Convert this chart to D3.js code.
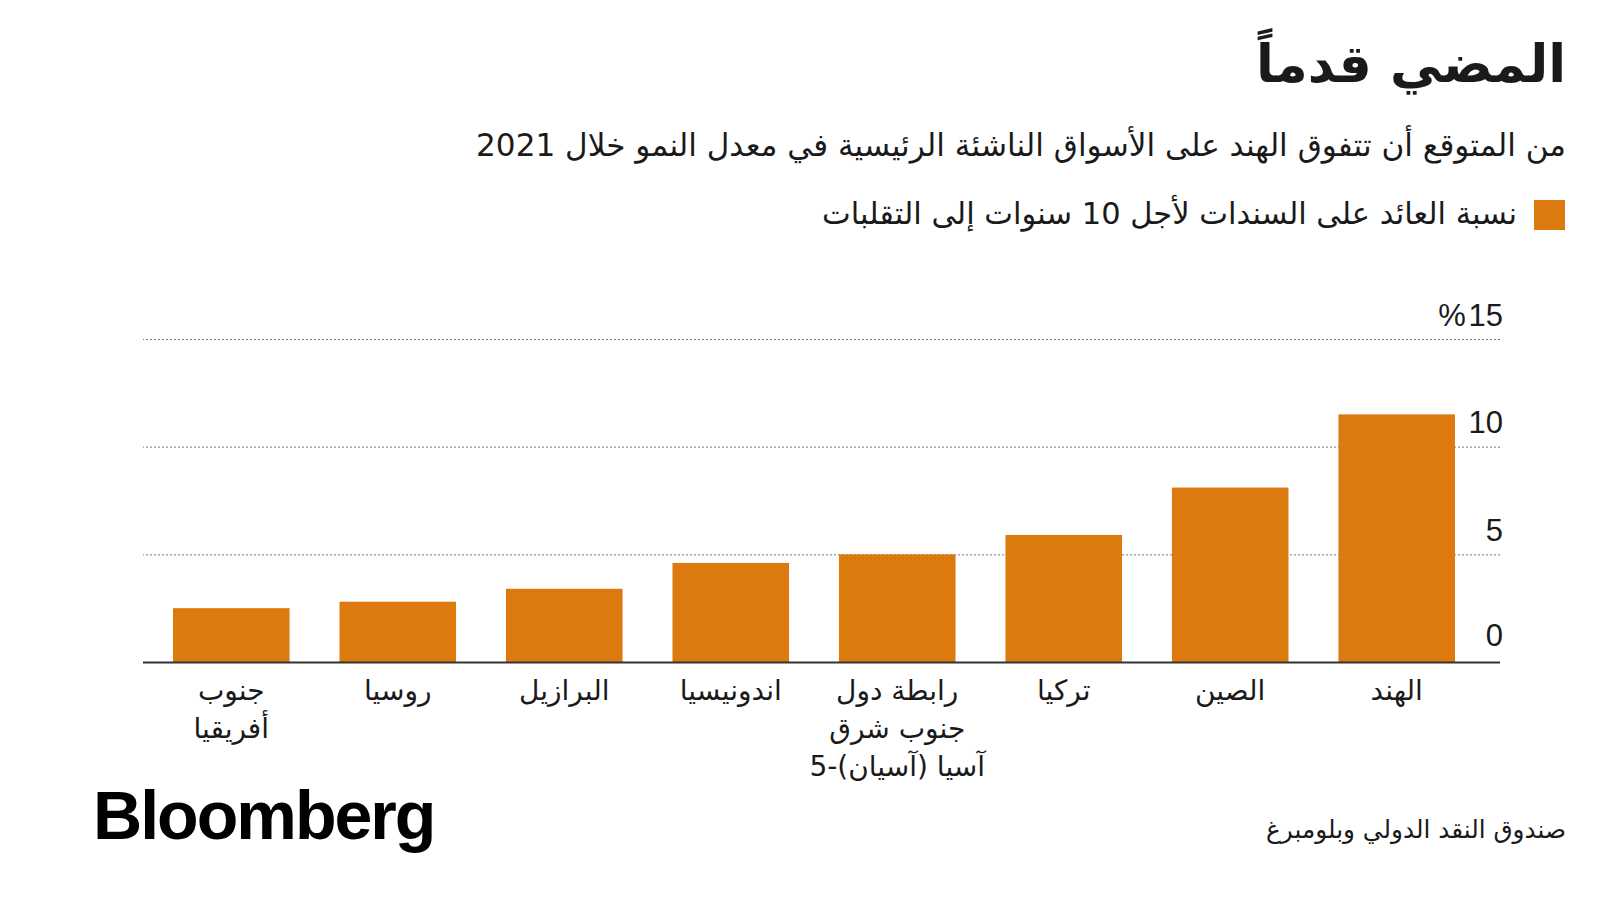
<!DOCTYPE html>
<html>
<head>
<meta charset="utf-8">
<script src="https://cdn.jsdelivr.net/npm/d3@7"></script>
<style>
  html, body { margin: 0; padding: 0; background: #ffffff; }
  svg { display: block; }
</style>
</head>
<body>
<svg id="chart" width="1600" height="900"></svg>
<script>
// ---- data ----
const titleText = "المضي قدماً";
const subtitleText = "من المتوقع أن تتفوق الهند على الأسواق الناشئة الرئيسية في معدل النمو خلال 2021";
const legendText = "نسبة العائد على السندات لأجل 10 سنوات إلى التقلبات";
const sourceText = "صندوق النقد الدولي وبلومبرغ";
const categories = [
  ["جنوب", "أفريقيا"],
  ["روسيا"],
  ["البرازيل"],
  ["اندونيسيا"],
  ["رابطة دول", "جنوب شرق", "آسيا (آسيان)-5"],
  ["تركيا"],
  ["الصين"],
  ["الهند"]
];
const values = [2.5, 2.8, 3.4, 4.6, 5.0, 5.9, 8.1, 11.5];
const yTicks = [0, 5, 10, 15];
const yTickLabels = ["0", "5", "10", "%\u200A15"];

// ---- styles ----
const ORANGE = "#DC7A0F";
const INK = "#1a1a1a";
const AR_FONT = "'DejaVu Sans', sans-serif";
const NUM_FONT = "'Liberation Sans', Arial, sans-serif";

const svg = d3.select("#chart");

const keys = categories.map((c, i) => "c" + i);
const x = d3.scaleBand().domain(keys).range([173, 1455]).paddingInner(0.3).paddingOuter(0);
const y = d3.scaleLinear().domain([0, 15]).range([662, 339]);

function fitText(sel, targetWidth) {
  const node = sel.node();
  const w = node.getComputedTextLength();
  const fs = parseFloat(sel.attr("font-size"));
  sel.attr("font-size", (fs * targetWidth / w).toFixed(2));
}

// title
const title = svg.append("text")
  .attr("x", 1566).attr("y", 82)
  .attr("direction", "rtl").attr("text-anchor", "start")
  .attr("font-family", AR_FONT).attr("font-weight", "bold")
  .attr("font-size", 56).attr("fill", INK)
  .text(titleText);
fitText(title, 310);

// subtitle
const sub = svg.append("text")
  .attr("x", 1566).attr("y", 156)
  .attr("direction", "rtl").attr("text-anchor", "start")
  .attr("font-family", AR_FONT)
  .attr("font-size", 30).attr("fill", INK)
  .text(subtitleText);
fitText(sub, 1090);

// legend
svg.append("rect")
  .attr("x", 1534).attr("y", 200).attr("width", 31).attr("height", 30)
  .attr("fill", ORANGE);
const leg = svg.append("text")
  .attr("x", 1517).attr("y", 224)
  .attr("direction", "rtl").attr("text-anchor", "start")
  .attr("font-family", AR_FONT)
  .attr("font-size", 28).attr("fill", INK)
  .text(legendText);
fitText(leg, 695);

// gridlines + y labels via axis
const yAxis = d3.axisLeft(y).tickValues(yTicks).tickSize(1500 - 143).tickFormat((d, i) => yTickLabels[i]);
const gy = svg.append("g").attr("transform", "translate(1500,0)").call(yAxis);
gy.select(".domain").remove();
gy.selectAll(".tick line")
  .attr("stroke", "#7a7a7a").attr("stroke-width", 1).attr("stroke-dasharray", "2,2");
gy.selectAll(".tick text")
  .attr("x", 3).attr("dy", "-0.45em").attr("text-anchor", "end")
  .attr("font-family", NUM_FONT).attr("font-size", 31).attr("fill", INK)
  .attr("y", d => d === 0 ? -3 : 0);

// bars
svg.append("g").selectAll("rect")
  .data(values)
  .join("rect")
  .attr("x", (d, i) => x(keys[i]))
  .attr("width", x.bandwidth())
  .attr("y", d => y(d))
  .attr("height", d => y(0) - y(d))
  .attr("fill", ORANGE);

// baseline on top
gy.selectAll(".tick").filter(d => d === 0).select("line")
  .attr("stroke", "#333").attr("stroke-width", 2).attr("stroke-dasharray", null);
const zeroTick = gy.selectAll(".tick").filter(d => d === 0).node();
const baseLayer = svg.append("g").attr("transform", "translate(1500,0)")
  .attr("font-family", gy.attr("font-family")).attr("font-size", gy.attr("font-size"))
  .attr("text-anchor", gy.attr("text-anchor"));
baseLayer.node().appendChild(zeroTick);

// x labels
const xl = svg.append("g");
categories.forEach((lines, i) => {
  const cx = x(keys[i]) + x.bandwidth() / 2;
  const t = xl.append("text")
    .attr("x", cx).attr("y", 700)
    .attr("direction", "rtl").attr("text-anchor", "middle")
    .attr("font-family", AR_FONT).attr("font-size", 28).attr("fill", INK);
  lines.forEach((ln, j) => {
    t.append("tspan").attr("x", cx).attr("dy", j === 0 ? 0 : 38).text(ln);
  });
});

// Bloomberg logo
const logo = svg.append("text")
  .attr("x", 93).attr("y", 839)
  .attr("font-family", "'Liberation Sans', Arial, sans-serif").attr("font-weight", "bold")
  .attr("font-size", 66).attr("letter-spacing", -2).attr("fill", "#000")
  .text("Bloomberg");
fitText(logo, 341);

// source
const src = svg.append("text")
  .attr("x", 1566).attr("y", 838)
  .attr("direction", "rtl").attr("text-anchor", "start")
  .attr("font-family", AR_FONT)
  .attr("font-size", 22).attr("fill", INK)
  .text(sourceText);
fitText(src, 300);
</script>
</body>
</html>
